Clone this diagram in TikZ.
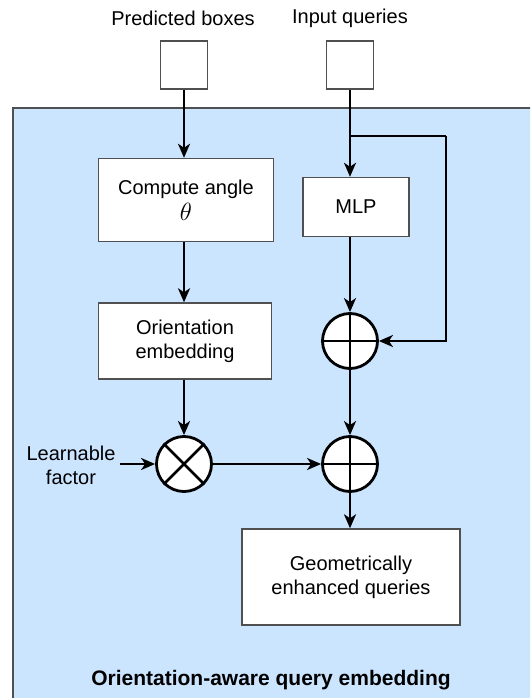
\documentclass[tikz,border=0pt]{standalone}
\usepackage{fontspec}
\setmainfont{Liberation Sans}
\usetikzlibrary{arrows.meta}
\definecolor{bgblue}{RGB}{204,229,255}
\definecolor{bordergray}{RGB}{80,80,80}
\begin{document}
\begin{tikzpicture}[x=1pt,y=-1pt,
  txt/.style={font=\fontsize{20}{24}\selectfont, align=center},
  procbox/.style={draw=bordergray, line width=1.4pt, fill=white, inner sep=0pt, txt},
  smallsq/.style={draw=bordergray, line width=1.4pt, fill=white, minimum width=47pt, minimum height=48pt, inner sep=0pt},
  opcirc/.style={circle, draw=black, line width=2.8pt, fill=white, minimum size=55pt, inner sep=0pt},
  arr/.style={line width=2.8pt, -{Stealth[length=14pt,width=12pt,inset=4pt]}},
  ln/.style={line width=2.8pt}
]
\useasboundingbox (0,0) rectangle (530,698);
\begin{scope}
\clip (0,0) rectangle (530,698);
\fill[bgblue] (13,108) rectangle (545,712);
\draw[bordergray, line width=1.4pt] (13,712) -- (13,108) -- (545,108);
\end{scope}

% top labels and inputs
\node[txt] (lpb) at (183,18) {Predicted boxes};
\node[txt] (liq) at (350,18) {Input queries};
\node[smallsq] (pb) at (184,65) {};
\node[smallsq] (iq) at (350,65) {};

% boxes
\node[procbox, minimum width=175pt, minimum height=83pt] (ca) at (186,200) {Compute angle\\[2pt]{\fontsize{23}{24}\selectfont$\theta$}};
\node[procbox, minimum width=106pt, minimum height=59pt] (mlp) at (356,207) {MLP};
\node[procbox, minimum width=173pt, minimum height=76pt] (oe) at (185,341) {Orientation\\embedding};
\node[procbox, minimum width=218pt, minimum height=96pt] (geq) at (351,577) {Geometrically\\enhanced queries};

% operators
\node[opcirc] (p1) at (350,341) {};
\node[opcirc] (ot) at (184,464) {};
\node[opcirc] (p2) at (350,464) {};
\draw[ln] (p1.north) -- (p1.south) (p1.west) -- (p1.east);
\draw[ln] (p2.north) -- (p2.south) (p2.west) -- (p2.east);
\draw[ln] (ot.45) -- (ot.225) (ot.135) -- (ot.315);

\node[txt, inner sep=4pt] (lf) at (71,465) {Learnable\\factor};

% title
\node[font=\fontsize{21}{25}\selectfont\bfseries] (title) at (271,680) {Orientation-aware query embedding};

% connectors
\coordinate (j) at (350,136);
\coordinate (jr) at (446,136);
\draw[arr] (pb.south) -- (ca.north -| pb.south);
\draw[arr] (iq.south) -- (mlp.north -| iq.south);
\draw[ln] (j) -- (jr);
\draw[arr] (jr) |- (p1.east);
\draw[arr] (mlp.south -| p1.north) -- (p1.north);
\draw[arr] (ca.south -| ot.north) -- (oe.north -| ot.north);
\draw[arr] (oe.south -| ot.north) -- (ot.north);
\draw[arr] (lf.east |- ot.west) -- (ot.west);
\draw[arr] (ot.east) -- (p2.west);
\draw[arr] (p1.south) -- (p2.north);
\draw[arr] (p2.south) -- (geq.north -| p2.south);
\end{tikzpicture}
\end{document}
